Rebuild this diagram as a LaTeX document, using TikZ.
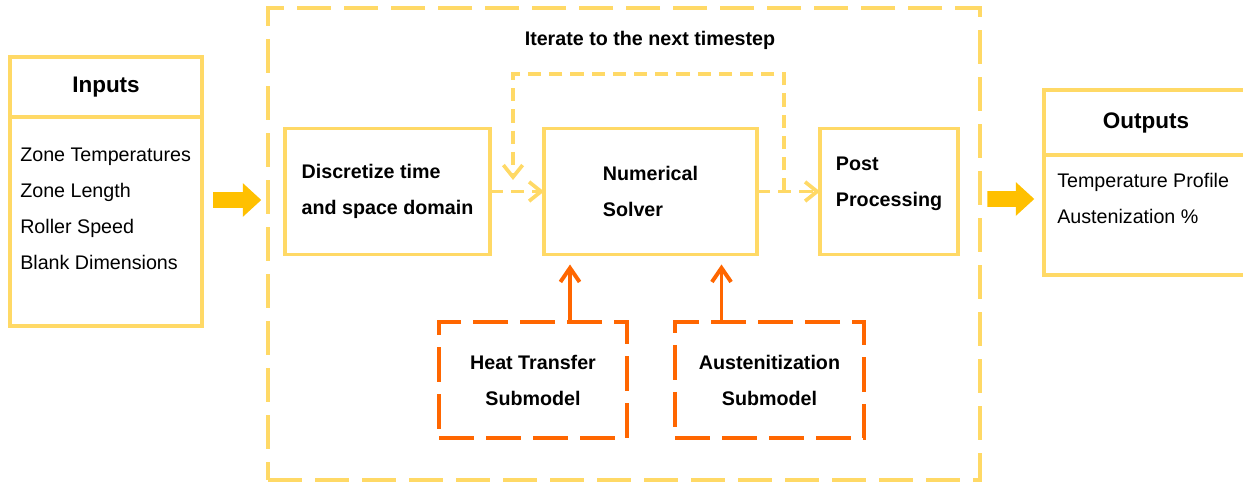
\documentclass[tikz,border=0pt]{standalone}
\usepackage{fontspec}
\setmainfont{Liberation Sans}
\usetikzlibrary{arrows.meta, positioning, shapes.arrows}
\definecolor{boxgold}{HTML}{FFD966}
\definecolor{arrowgold}{HTML}{FFC000}
\definecolor{subred}{HTML}{FF6600}

\begin{document}
\begin{tikzpicture}[
    every node/.style={font=\fontsize{14}{25.6}\selectfont},
    box/.style={rectangle, draw=boxgold, line width=2.8pt, outer sep=0pt, inner sep=0pt, align=left},
    head/.style={box, font=\fontsize{16}{20}\selectfont\bfseries},
    proc/.style={box, minimum height=3.15cm, font=\fontsize{14}{25.6}\selectfont\bfseries},
    sub/.style={rectangle, draw=subred, line width=2.8pt, dash pattern=on 0.875cm off 0.3cm, outer sep=0pt, align=center, minimum width=4.7cm, minimum height=2.9cm, font=\fontsize{14}{25.6}\selectfont\bfseries},
    loopbox/.style={rectangle, draw=boxgold, line width=2.8pt, dash pattern=on 0.85cm off 0.325cm, minimum width=17.8cm, minimum height=11.8cm},
    fat/.style={single arrow, fill=arrowgold, minimum height=1.2cm, inner sep=0.1875cm, single arrow head extend=0.225cm, single arrow tip angle=85},
    flow/.style={draw=boxgold, line width=2.6pt, dash pattern=on 0.33cm off 0.2cm, -{Straight Barb[length=0.3cm, width=0.48cm]}},
    feed/.style={draw=subred, line width=2.8pt, -{Straight Barb[length=0.35cm, width=0.48cm]}, shorten >=0.25cm}
]
\useasboundingbox (0,0) rectangle (31.075,-12.075);

% inputs
\node[head, minimum width=4.8cm, minimum height=1.5cm] (intitle) at (2.65,-2.175) {Inputs};
\node[box, minimum width=4.8cm, minimum height=5.225cm, below=0pt of intitle] (inbody) {};
\node[anchor=west, align=left, inner sep=0pt] (inlist) at (0.5,-5.2125) {Zone Temperatures\\Zone Length\\Roller Speed\\Blank Dimensions};
\node[fat] (inarrow) at (5.825,-5) {};

% time loop
\node[loopbox] (loop) at (15.6,-6.1) {};
\node[font=\fontsize{14}{17}\selectfont\bfseries] (looptitle) at (16.25,-1.0) {Iterate to the next timestep};

\node[proc, minimum width=5.125cm] (disc) at (9.6875,-4.7875) {Discretize time\\and space domain};
\node[proc, minimum width=5.325cm] (solver) at (16.2625,-4.7875) {Numerical\\Solver};
\node[proc, minimum width=3.45cm] (post) at (22.225,-4.7875) {};
\node[align=left, inner sep=0pt, font=\fontsize{14}{25.6}\selectfont\bfseries] (posttxt) at (22.225,-4.5875) {Post\\Processing};

\node[sub] (heat) at (13.325,-9.5) {Heat Transfer\\Submodel};
\node[sub, minimum width=4.725cm] (austen) at (19.2375,-9.5) {Austenitization\\Submodel};

\coordinate (loopout) at (19.6,-4.7875);
\coordinate (loopin) at (12.825,-4.5);

\draw[flow] (disc) -- (solver);
\draw[flow] (solver) -- (post);
\draw[flow] (loopout) -- ++(0,2.9375) -| (loopin);

\draw[feed] ([xshift=0.925cm]heat.north) -- ([xshift=0.925cm]heat.north |- solver.south);
\draw[feed] ([xshift=-1.2cm]austen.north) -- ([xshift=-1.2cm]austen.north |- solver.south);

% outputs
\node[fat, minimum height=1.175cm] (outarrow) at (25.1625,-4.975) {};
\node[head, minimum width=5.1cm, minimum height=1.625cm] (outtitle) at (28.65,-3.0625) {Outputs};
\node[box, minimum width=5.1cm, minimum height=3cm, below=0pt of outtitle] (outbody) {};
\node[anchor=west, align=left, inner sep=0pt] (outlist) at (26.425,-4.9625) {Temperature Profile\\Austenization \%};
\end{tikzpicture}
\end{document}
